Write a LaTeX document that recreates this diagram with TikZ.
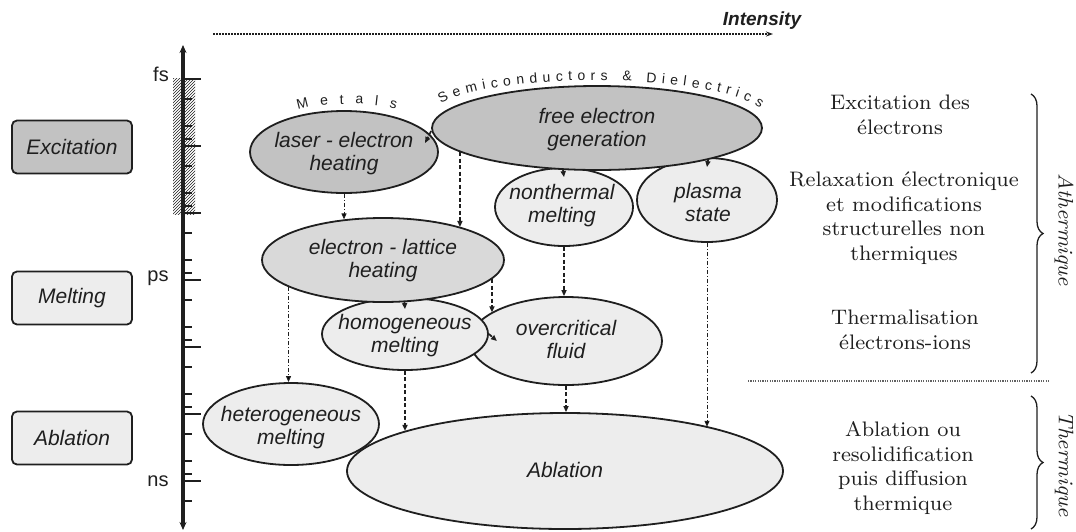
\documentclass[tikz,border=0pt]{standalone}
\usepackage{fontspec}
\setsansfont{Liberation Sans}
\newfontfamily\notefont{lmroman8-regular}[Extension=.otf, ItalicFont=lmroman8-italic]
\usetikzlibrary{shapes.geometric,arrows.meta,decorations.text,decorations.pathreplacing,patterns}
\definecolor{darkfill}{gray}{0.76}
\definecolor{midfill}{gray}{0.85}
\definecolor{lightfill}{gray}{0.93}
\definecolor{ink}{gray}{0.12}

\begin{document}
\begin{tikzpicture}[x=1pt, y=-1pt,
    blob/.style={draw=ink, ellipse, line width=1.8pt, inner sep=0pt},
    lbl/.style={align=center, text=ink, inner sep=0pt, font=\sffamily\itshape\fontsize{21}{23}\selectfont},
    phase/.style={draw=ink, rounded corners=5pt, minimum width=120pt, minimum height=53pt, line width=1.8pt, text=ink, font=\sffamily\itshape\fontsize{21}{23}\selectfont},
    note/.style={align=center, text=ink, font=\notefont\fontsize{21}{24.5}\selectfont},
    flow/.style={-{Triangle[length=6pt,width=5pt]}, line width=1.7pt, dash pattern=on 4pt off 2.5pt, draw=ink},
    flowthin/.style={-{Triangle[length=6pt,width=5pt]}, line width=1pt, dash pattern=on 4pt off 2pt on 1pt off 2pt, draw=ink}
]
    \useasboundingbox (0,0) rectangle (1076,531);

    % intensity
    \coordinate (istart) at (213,34);
    \coordinate (iend) at (773,34);
    \draw[ink, line width=1.5pt, dash pattern=on 1.5pt off 1.5pt, -{Stealth[length=7pt,width=5pt]}] (istart) -- (iend);
    \node[text=ink, font=\sffamily\bfseries\itshape\fontsize{19}{19}\selectfont] (intens) at (762,21) {Intensity};

    % time axis
    \fill[pattern=north east lines, pattern color=ink] (173,78) rectangle (195,214);
    \coordinate (ttop) at (183,45);
    \coordinate (tbot) at (183,530);
    \draw[ink, line width=3.5pt, {Stealth[length=8pt,width=7pt]}-{Stealth[length=8pt,width=7pt]}] (tbot) -- (ttop);
    \foreach \k in {0,...,6}
        \draw[ink, line width=2pt] (183,79+67*\k) -- (201,79+67*\k);
    \foreach \k in {0,...,5}
        \foreach \s in {20,47,60}
            \draw[ink, line width=1.6pt] (183,79+67*\k+\s) -- (192,79+67*\k+\s);
    \draw[ink, line width=1.6pt] (183,501) -- (192,501);
    \node[text=ink, font=\sffamily\fontsize{20}{20}\selectfont] (fs) at (161,74) {fs};
    \node[text=ink, font=\sffamily\fontsize{20}{20}\selectfont] (ps) at (158,278) {ps};
    \node[text=ink, font=\sffamily\fontsize{20}{20}\selectfont] (ns) at (158,481) {ns};

    % phases
    \node[phase, fill=darkfill] (exc) at (72,147) {Excitation};
    \node[phase, fill=lightfill] (melt) at (72,298) {Melting};
    \node[phase, fill=lightfill] (ablbox) at (72,438) {Ablation};

    % processes
    \node[blob, fill=darkfill, minimum width=188pt, minimum height=82pt] (laser) at (344,152) {};
    \node[blob, fill=lightfill, minimum width=138pt, minimum height=78pt] (nonth) at (564,207) {};
    \node[blob, fill=lightfill, minimum width=140pt, minimum height=84pt] (plasma) at (707,200) {};
    \node[blob, fill=darkfill, minimum width=330pt, minimum height=84pt] (free) at (597,128) {};
    \node[blob, fill=lightfill, minimum width=192pt, minimum height=88pt] (over) at (566,341) {};
    \node[blob, fill=lightfill, minimum width=166pt, minimum height=72pt] (homo) at (405,334) {};
    \node[blob, fill=midfill, minimum width=242pt, minimum height=84pt] (elat) at (383,260) {};
    \node[blob, fill=lightfill, minimum width=436pt, minimum height=116pt] (abl) at (565,471) {};
    \node[blob, fill=lightfill, minimum width=176pt, minimum height=82pt] (hetero) at (291,424) {};

    \node[lbl] (laser-t) at (344,154) {laser - electron\\heating};
    \node[lbl] (free-t) at (597,130) {free electron\\generation};
    \node[lbl] (nonth-t) at (562,206) {nonthermal\\melting};
    \node[lbl] (plasma-t) at (708,202) {plasma\\state};
    \node[lbl] (elat-t) at (383,261) {electron - lattice\\heating};
    \node[lbl] (homo-t) at (405,336) {homogeneous\\melting};
    \node[lbl] (over-t) at (566,339) {overcritical\\fluid};
    \node[lbl] (hetero-t) at (291,428) {heterogeneous\\melting};
    \node[lbl] (abl-t) at (565,470) {Ablation};

    % material classes
    \path[decorate, decoration={text along path, text align={fit to path}, text color=ink,
        text={|\sffamily\fontsize{14}{14}\selectfont|Metals}}]
        (298,110) .. controls (322,102) and (372,102) .. (396,109);
    \path[decorate, decoration={text along path, text align={fit to path}, text color=ink,
        text={|\sffamily\fontsize{14}{14}\selectfont|Semiconductors {\&} Dielectrics}}]
        (441,104) .. controls (492,72) and (708,72) .. (760,108);

    % links
    \draw[flowthin] (laser.south) -- (laser.south |- elat.134);
    \draw[flow] (free.190) -- (free.190 |- elat.23);
    \draw[flow] ([yshift=-3pt]free.west) -- ([xshift=-6pt,yshift=-15pt]free.west);
    \draw[flow] (free.231) -- ([yshift=-10pt]nonth.north);
    \draw[flow] (free.344) -- ([yshift=-10pt]plasma.north);
    \draw[flow] (nonth.south) -- (nonth.south |- over.north);
    \draw[flowthin] (plasma.south) -- (plasma.south |- abl.17);
    \draw[flowthin] (elat.196) -- (elat.196 |- hetero.north);
    \draw[flow] (elat.297) -- ([yshift=-12pt]homo.north);
    \draw[flow] (elat.350) -- (elat.350 |- over.159);
    \draw[flow] (homo.east) -- ([xshift=8pt,yshift=-7pt]homo.east);
    \draw[flow] (homo.south) -- (homo.south |- abl.166);
    \draw[flow] (over.south) -- (over.south |- abl.north);

    % description
    \node[note] (n-exc) at (900,115) {Excitation des\\électrons};
    \node[note] (n-relax) at (904,218) {Relaxation électronique\\et modifications\\structurelles non\\thermiques};
    \node[note] (n-therm) at (905,330) {Thermalisation\\électrons-ions};
    \node[note] (n-abl) at (903,468) {Ablation ou\\resolidification\\puis diffusion\\thermique};

    \coordinate (sepl) at (748,381);
    \coordinate (sepr) at (1050,381);
    \draw[ink!70, line width=1.2pt, dash pattern=on 1.2pt off 1.2pt] (sepl) -- (sepr);

    % regimes
    \coordinate (athtop) at (1031,94);
    \coordinate (athbot) at (1031,373);
    \coordinate (thtop) at (1031,396);
    \coordinate (thbot) at (1031,529);
    \draw[ink, line width=1.3pt, decorate, decoration={brace, amplitude=12pt}] (athtop) -- (athbot);
    \draw[ink, line width=1.3pt, decorate, decoration={brace, amplitude=12pt}] (thtop) -- (thbot);
    \node[rotate=-90, text=ink, font=\notefont\itshape\fontsize{21}{21}\selectfont] (ather) at (1064,230) {Athermique};
    \node[rotate=-90, text=ink, font=\notefont\itshape\fontsize{21}{21}\selectfont] (therm) at (1064,464) {Thermique};
\end{tikzpicture}
\end{document}
